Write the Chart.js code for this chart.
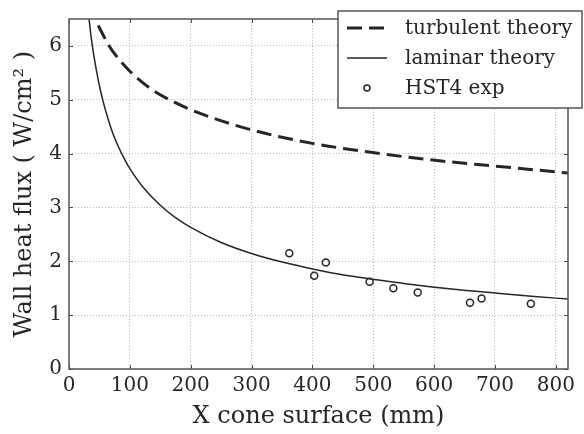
<!DOCTYPE html>
<html>
<head>
<meta charset="utf-8">
<script src="https://cdn.jsdelivr.net/npm/chart.js@4/dist/chart.umd.min.js"></script>
<style>
  html, body { margin: 0; padding: 0; background: #fff; }
  canvas { display: block; }
</style>
</head>
<body>
<canvas id="c" width="584" height="434"></canvas>
<script>
// Wall heat flux along the cone surface
const turbulentX = [48, 66, 80, 100, 135, 174, 210, 297, 400, 499, 598, 699, 820];
const turbulentY = [6.38, 6.0, 5.78, 5.53, 5.2, 4.95, 4.77, 4.45, 4.19, 4.02, 3.88, 3.77, 3.64];

const laminarX = [33, 36, 40, 45, 50, 56, 63, 72, 82, 92, 100, 120, 150, 175, 200, 250, 313, 380, 445, 550, 641, 700, 760, 820];
const laminarY = [6.5, 6.2, 5.88, 5.55, 5.26, 4.97, 4.69, 4.38, 4.11, 3.88, 3.72, 3.4, 3.04, 2.81, 2.63, 2.35, 2.1, 1.91, 1.76, 1.59, 1.47, 1.41, 1.35, 1.3];

const expX = [362, 403, 422, 494, 533, 573, 659, 678, 759];
const expY = [2.15, 1.73, 1.98, 1.62, 1.50, 1.42, 1.23, 1.31, 1.21];

const seriesNames = ['turbulent theory', 'laminar theory', 'HST4 exp'];
const xTitle = 'X cone surface (mm)';
const yTitle = 'Wall heat flux ( W/cm\u00B2 )';

const ink = '#262626';
const serif = "'DejaVu Serif', serif";

const pairs = (xs, ys) => xs.map((v, i) => ({ x: v, y: ys[i] }));

// Axes frame with short inward ticks on all four sides
const frameAndTicks = {
  id: 'frameAndTicks',
  afterDatasetsDraw(chart) {
    const { ctx, chartArea: a, scales: { x, y } } = chart;
    ctx.save();
    ctx.strokeStyle = '#4a4a4a';
    ctx.lineWidth = 1;
    ctx.beginPath();
    x.ticks.forEach(t => {
      const px = Math.round(x.getPixelForValue(t.value)) + 0.5;
      ctx.moveTo(px, a.bottom); ctx.lineTo(px, a.bottom - 4);
      ctx.moveTo(px, a.top); ctx.lineTo(px, a.top + 4);
    });
    y.ticks.forEach(t => {
      const py = Math.round(y.getPixelForValue(t.value)) + 0.5;
      ctx.moveTo(a.left, py); ctx.lineTo(a.left + 4, py);
      ctx.moveTo(a.right, py); ctx.lineTo(a.right - 4, py);
    });
    ctx.stroke();
    ctx.lineWidth = 1.5;
    ctx.strokeStyle = '#555';
    ctx.strokeRect(a.left, a.top, a.right - a.left, a.bottom - a.top);
    ctx.restore();
  }
};

// Framed legend in the upper right corner
const boxLegend = {
  id: 'boxLegend',
  afterDraw(chart) {
    const { ctx, chartArea: a } = chart;
    const bx = a.left + 269, by = a.top - 8, bw = 244, bh = 97;
    ctx.save();
    ctx.fillStyle = '#fff';
    ctx.fillRect(bx, by, bw, bh);
    ctx.strokeStyle = '#555';
    ctx.lineWidth = 1.5;
    ctx.strokeRect(bx, by, bw, bh);
    ctx.font = '20px ' + serif;
    ctx.textBaseline = 'middle';
    ctx.textAlign = 'left';
    chart.data.datasets.forEach((ds, i) => {
      const cy = by + 17 + i * 30;
      const x0 = bx + 9, x1 = bx + 49;
      ctx.strokeStyle = ds.borderColor;
      if (ds.showLine) {
        ctx.lineWidth = ds.borderWidth;
        ctx.setLineDash(ds.borderDash || []);
        ctx.beginPath();
        ctx.moveTo(x0, cy); ctx.lineTo(x1, cy);
        ctx.stroke();
        ctx.setLineDash([]);
      } else {
        ctx.lineWidth = ds.pointBorderWidth;
        ctx.beginPath();
        ctx.arc((x0 + x1) / 2, cy, ds.pointRadius - 0.5, 0, Math.PI * 2);
        ctx.stroke();
      }
      ctx.fillStyle = ink;
      ctx.fillText(ds.label, bx + 67, cy + 1);
    });
    ctx.restore();
  }
};

new Chart(document.getElementById('c'), {
  type: 'scatter',
  data: {
    datasets: [
      {
        label: seriesNames[0],
        data: pairs(turbulentX, turbulentY),
        showLine: true,
        borderColor: ink,
        borderWidth: 3,
        borderDash: [15, 7],
        pointRadius: 0,
        cubicInterpolationMode: 'monotone',
        fill: false
      },
      {
        label: seriesNames[1],
        data: pairs(laminarX, laminarY),
        showLine: true,
        borderColor: ink,
        borderWidth: 1.5,
        pointRadius: 0,
        cubicInterpolationMode: 'monotone',
        fill: false
      },
      {
        label: seriesNames[2],
        data: pairs(expX, expY),
        showLine: false,
        borderColor: ink,
        backgroundColor: 'rgba(0,0,0,0)',
        pointRadius: 3.5,
        pointBorderWidth: 1.5
      }
    ]
  },
  options: {
    responsive: false,
    animation: false,
    devicePixelRatio: 1,
    layout: { padding: { top: 13, right: 16, left: 0, bottom: 0 } },
    plugins: { legend: { display: false }, tooltip: { enabled: false } },
    scales: {
      x: {
        type: 'linear',
        min: 0,
        max: 820,
        ticks: {
          stepSize: 100,
          includeBounds: false,
          autoSkip: false,
          maxRotation: 0,
          padding: 5,
          color: ink,
          font: { family: serif, size: 20 }
        },
        grid: { color: '#bdbdbd', lineWidth: 1, drawTicks: false },
        border: { display: false, dash: [1, 2] },
        title: {
          display: true,
          text: xTitle,
          color: ink,
          font: { family: serif, size: 24 },
          padding: { top: 0, bottom: 3 }
        },
        afterFit(s) { s.height = 65; }
      },
      y: {
        type: 'linear',
        min: 0,
        max: 6.5,
        ticks: {
          stepSize: 1,
          includeBounds: false,
          padding: 7,
          color: ink,
          font: { family: serif, size: 20 }
        },
        grid: { color: '#bdbdbd', lineWidth: 1, drawTicks: false },
        border: { display: false, dash: [1, 2] },
        title: {
          display: true,
          text: yTitle,
          color: ink,
          font: { family: serif, size: 24 },
          padding: { top: 10, bottom: 0 }
        },
        afterFit(s) { s.width = 69; }
      }
    }
  },
  plugins: [frameAndTicks, boxLegend]
});
</script>
</body>
</html>
